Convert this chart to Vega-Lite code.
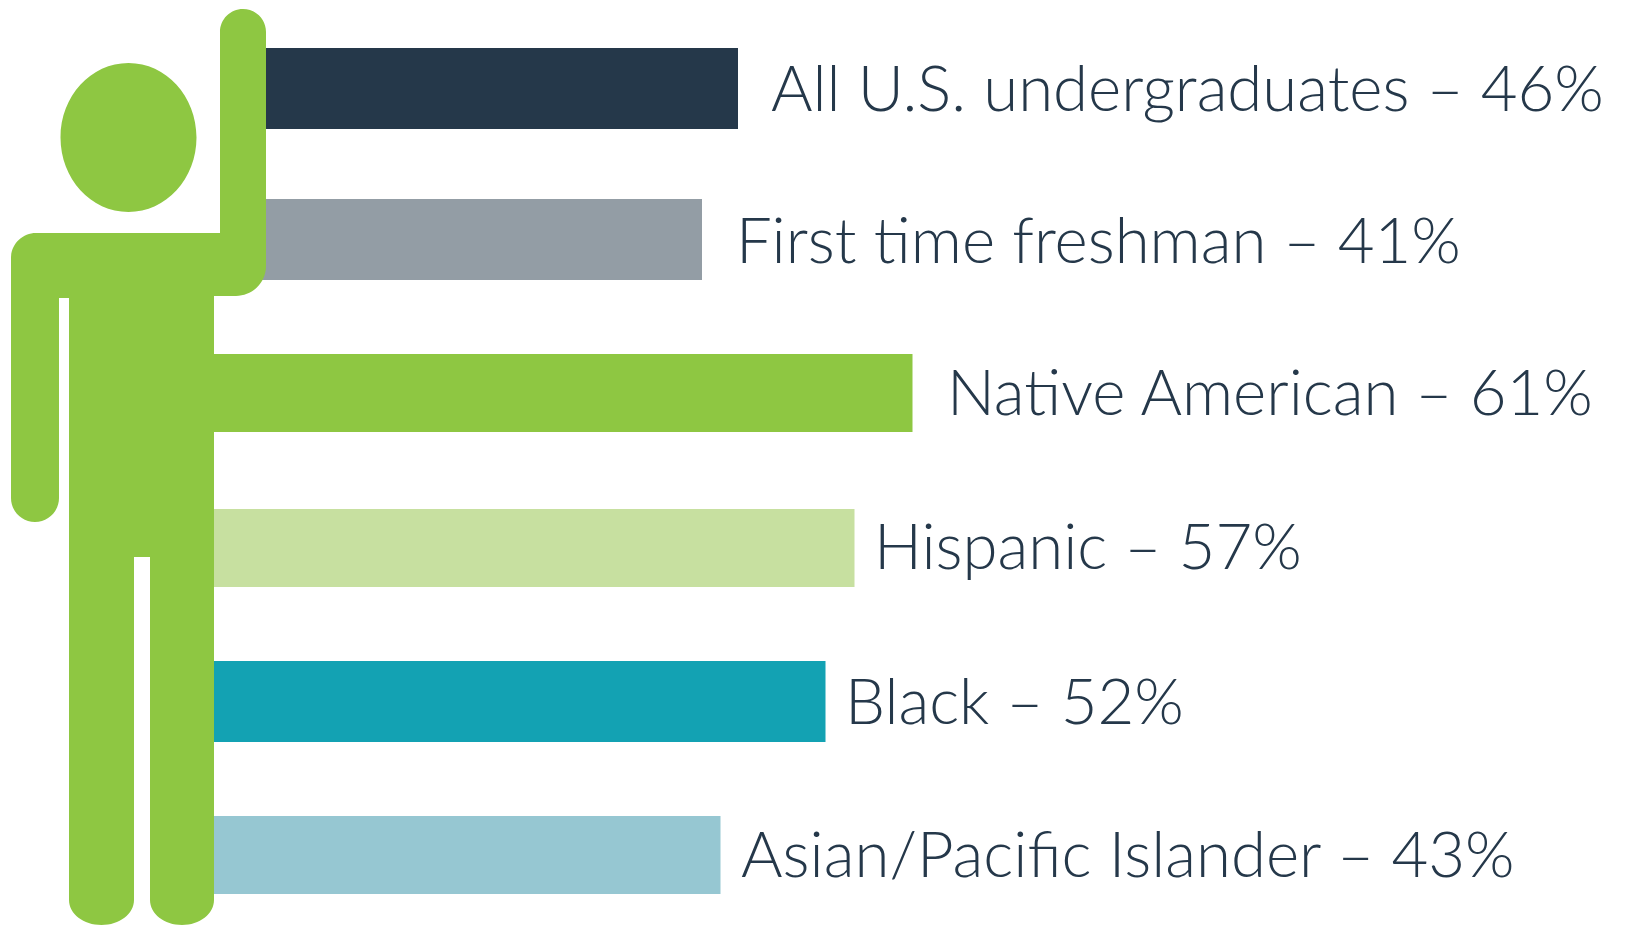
{
  "$schema": "https://vega.github.io/schema/vega-lite/v6.json",
  "width": 1626,
  "height": 926,
  "autosize": {"type": "fit", "contains": "padding"},
  "padding": 0,
  "background": "white",
  "config": {"view": {"stroke": null}},
  "datasets": {
    "bars": [
      {"group": "All U.S. undergraduates", "pct": 46, "label": "All U.S. undergraduates – 46%", "start": 262, "end": 738, "top": 48, "bottom": 129, "labelX": 771, "labelY": 92, "color": "#25384A"},
      {"group": "First time freshman", "pct": 41, "label": "First time freshman – 41%", "start": 262, "end": 702, "top": 199, "bottom": 280, "labelX": 736, "labelY": 244, "color": "#939DA5"},
      {"group": "Native American", "pct": 61, "label": "Native American – 61%", "start": 210, "end": 912.5, "top": 354, "bottom": 432, "labelX": 947, "labelY": 396, "color": "#8EC742"},
      {"group": "Hispanic", "pct": 57, "label": "Hispanic – 57%", "start": 210, "end": 854.5, "top": 509, "bottom": 587, "labelX": 874, "labelY": 550, "color": "#C7E0A0"},
      {"group": "Black", "pct": 52, "label": "Black – 52%", "start": 210, "end": 825.5, "top": 661, "bottom": 742, "labelX": 845, "labelY": 705, "color": "#13A2B3"},
      {"group": "Asian/Pacific Islander", "pct": 43, "label": "Asian/Pacific Islander – 43%", "start": 210, "end": 720.5, "top": 816, "bottom": 894, "labelX": 741, "labelY": 858, "color": "#96C7D2"}
    ],
    "figure": [{"name": "person", "cx": 138, "cy": 467}]
  },
  "layer": [
    {
      "data": {"name": "bars"},
      "mark": {"type": "rect"},
      "encoding": {
        "x": {"field": "start", "type": "quantitative", "scale": {"domain": [0, 1626], "nice": false, "zero": false}, "axis": null},
        "x2": {"field": "end"},
        "y": {"field": "top", "type": "quantitative", "scale": {"domain": [926, 0], "nice": false, "zero": false}, "axis": null},
        "y2": {"field": "bottom"},
        "color": {"field": "color", "type": "nominal", "scale": null, "legend": null}
      }
    },
    {
      "data": {"name": "figure"},
      "mark": {
        "type": "point",
        "filled": true,
        "opacity": 1,
        "color": "#8EC742",
        "size": 4,
        "shape": "M82,-435A23,23 0 0 1 128,-435L128,-201A30,30 0 0 1 98,-171L76,-171L76,433A32,25 0 0 1 12,433L12,90L-4,90L-4,433A32.5,25 0 0 1 -69,433L-69,-169L-79,-169L-79,31A24,24 0 0 1 -127,31L-127,-209A25,25 0 0 1 -102,-234L82,-234ZM-77.5,-329.5A68,74.5 0 1 0 58.5,-329.5A68,74.5 0 1 0 -77.5,-329.5Z"
      },
      "encoding": {
        "x": {"field": "cx", "type": "quantitative", "axis": null},
        "y": {"field": "cy", "type": "quantitative", "axis": null}
      }
    },
    {
      "data": {"name": "bars"},
      "mark": {"type": "text", "align": "left", "baseline": "middle", "font": "Lato", "fontWeight": 300, "fontSize": 63.5, "color": "#25384A"},
      "encoding": {
        "x": {"field": "labelX", "type": "quantitative", "axis": null},
        "y": {"field": "labelY", "type": "quantitative", "axis": null},
        "text": {"field": "label", "type": "nominal"}
      }
    }
  ]
}
